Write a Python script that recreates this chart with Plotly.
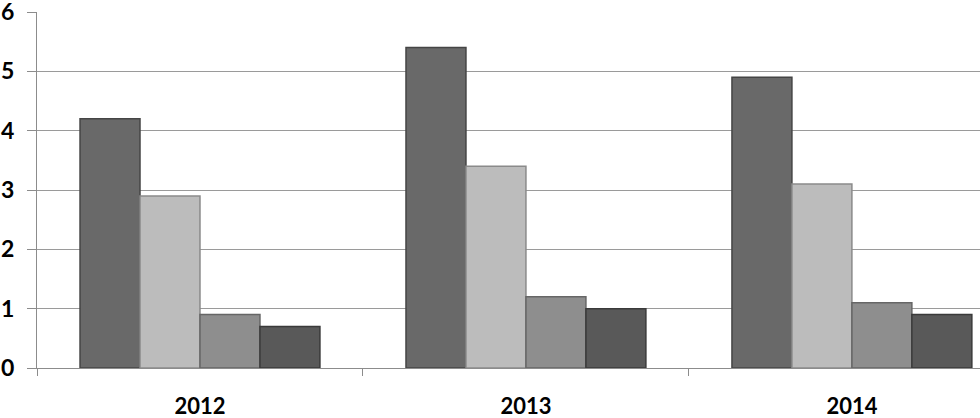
import plotly.graph_objects as go

years = ['2012', '2013', '2014']
series_a = [4.2, 5.4, 4.9]
series_b = [2.9, 3.4, 3.1]
series_c = [0.9, 1.2, 1.1]
series_d = [0.7, 1.0, 0.9]

fills = ['#696969', '#bcbcbc', '#8e8e8e', '#595959']
edges = ['#454545', '#8a8a8a', '#666666', '#3a3a3a']

fig = go.Figure()
for vals, fc, ec in zip([series_a, series_b, series_c, series_d], fills, edges):
    fig.add_trace(go.Bar(x=years, y=vals,
                         marker=dict(color=fc, line=dict(color=ec, width=1.5))))

fig.update_layout(width=980, height=418,
                  margin=dict(l=37, r=0, t=12, b=50),
                  barmode='group', bargap=0.264, bargroupgap=0,
                  showlegend=False,
                  plot_bgcolor='white', paper_bgcolor='white',
                  font=dict(family='Lato', size=23, color='black'))
fig.update_xaxes(range=[-0.5, 2.393], showgrid=False, automargin=False,
                 showline=True, linecolor='#8c8c8c', linewidth=1,
                 ticks='outside', tickson='boundaries', ticklen=7, tickcolor='#8c8c8c',
                 ticklabelstandoff=19,
                 tickfont=dict(family='Lato', size=22, weight='bold'))
fig.update_yaxes(range=[0, 6], dtick=1, showgrid=True, gridcolor='#9a9a9a', gridwidth=1,
                 automargin=False, ticklabeloverflow='allow',
                 showline=True, linecolor='#8c8c8c', linewidth=1,
                 zeroline=False,
                 ticks='outside', ticklen=9, tickcolor='#8c8c8c',
                 ticklabelstandoff=8,
                 tickfont=dict(family='Lato', size=23, weight='bold'))

# drop the page's default body margin so the figure sits at the window corner
fig.write_html("out.html", config={'displayModeBar': False},
               post_script="document.body.style.margin='0';")
